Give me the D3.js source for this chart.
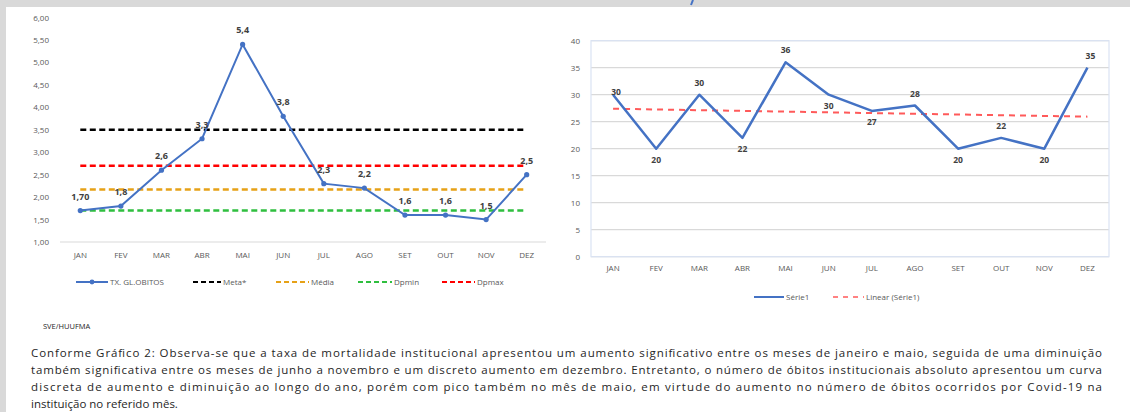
<!DOCTYPE html>
<html><head><meta charset="utf-8">
<script src="https://cdn.jsdelivr.net/npm/d3@7/dist/d3.min.js"></script>
<style>
html,body{margin:0;padding:0;background:#fff;}
svg{display:block;}
text{font-family:"Open Sans","Liberation Sans",sans-serif;}
</style></head>
<body>
<svg id="c" width="1130" height="412"></svg>
<script>
// ---------- DATA ----------
const months = ["JAN","FEV","MAR","ABR","MAI","JUN","JUL","AGO","SET","OUT","NOV","DEZ"];
const taxaValues = [1.70,1.8,2.6,3.3,5.4,3.8,2.3,2.2,1.6,1.6,1.5,2.5];
const taxaLabels = ["1,70","1,8","2,6","3,3","5,4","3,8","2,3","2,2","1,6","1,6","1,5","2,5"];
const metaValue = 3.5, mediaValue = 2.17, dpminValue = 1.7, dpmaxValue = 2.7;
const leftTicks = [1,1.5,2,2.5,3,3.5,4,4.5,5,5.5,6];
const obitosValues = [30,20,30,22,36,30,27,28,20,22,20,35];
const rightTicks = [0,5,10,15,20,25,30,35,40];
const obitosLabelSide = ["on","below","above","below","above","below","below","above","below","above","below","above"];
const legendLeft = ["TX. GL.OBITOS","Meta*","Média","Dpmin","Dpmax"];
const legendRight = ["Série1","Linear (Série1)"];
const sourceText = "SVE/HUUFMA";
const paragraph = [
 "Conforme Gráfico 2: Observa-se que a taxa de mortalidade institucional apresentou um aumento significativo entre os meses de janeiro e maio, seguida de uma diminuição",
 "também significativa entre os meses de junho a novembro e um discreto aumento em dezembro. Entretanto, o número de óbitos institucionais absoluto apresentou um curva",
 "discreta de aumento e diminuição ao longo do ano, porém com pico também no mês de maio, em virtude do aumento no número de óbitos ocorridos por Covid-19 na",
 "instituição no referido mês."
];

const svg = d3.select("#c");
const BLUE = "#4472c4";
const fmt = d => d3.format(".2f")(d).replace(".", ",");
const TICKFS = 8;

// frame (gray borders)
svg.append("rect").attr("x",0).attr("y",0).attr("width",1130).attr("height",7).attr("fill","#d9d9d9");
svg.append("rect").attr("x",0).attr("y",0).attr("width",6).attr("height",412).attr("fill","#d9d9d9");
// fragment of a cut-off heading glyph above the chart
svg.append("path").attr("d","M693,0 L691,5").attr("stroke",BLUE).attr("stroke-width",2);

// ---------- LEFT CHART ----------
const xL = d3.scaleBand().domain(months).range([60,547]);
const yL = d3.scaleLinear().domain([1,6]).range([242,17.5]);
const gL = svg.append("g");

gL.append("line").attr("x1",60).attr("x2",546).attr("y1",yL(1)).attr("y2",yL(1)).attr("stroke","#d9d9d9").attr("stroke-width",1);

const yAxisL = d3.axisLeft(yL).tickValues(leftTicks).tickFormat(fmt).tickSize(0).tickPadding(0);
gL.append("g").attr("transform","translate(49,0)").call(yAxisL)
  .call(g=>g.select(".domain").remove())
  .selectAll("text").attr("font-size",TICKFS).attr("fill","#595959").attr("font-family","'Open Sans',sans-serif");

const xAxisL = d3.axisBottom(xL).tickSize(0).tickPadding(0);
gL.append("g").attr("transform",`translate(0,${yL(1)+10})`).call(xAxisL)
  .call(g=>g.select(".domain").remove())
  .selectAll("text").attr("font-size",TICKFS).attr("fill","#595959").attr("font-family","'Open Sans',sans-serif");

const cx = m => xL(m) + xL.bandwidth()/2;
const refLines = [
  {v:metaValue,c:"#000000"},
  {v:dpmaxValue,c:"#ff0000"},
  {v:mediaValue,c:"#e6a117"},
  {v:dpminValue,c:"#2fbf3f"}
];
refLines.forEach(r=>{
  gL.append("line").attr("x1",cx(months[0])).attr("x2",cx(months[11]))
    .attr("y1",yL(r.v)).attr("y2",yL(r.v)).attr("stroke",r.c).attr("stroke-width",2.5)
    .attr("stroke-dasharray","6,3.5");
});

const lineL = d3.line().x((d,i)=>cx(months[i])).y(d=>yL(d));
gL.append("path").datum(taxaValues).attr("d",lineL).attr("fill","none").attr("stroke",BLUE).attr("stroke-width",2);
gL.selectAll("circle.pt").data(taxaValues).join("circle").attr("class","pt")
  .attr("cx",(d,i)=>cx(months[i])).attr("cy",d=>yL(d)).attr("r",2.6).attr("fill",BLUE);
gL.selectAll("text.lbl").data(taxaValues).join("text").attr("class","lbl")
  .attr("x",(d,i)=>cx(months[i])).attr("y",d=>yL(d)-11)
  .attr("text-anchor","middle").attr("font-size",9).attr("font-weight","bold").attr("fill","#404040")
  .text((d,i)=>taxaLabels[i]);

// legend left
const legY = 282;
const legL = [
  {x:76, w:32, c:BLUE, dash:null, marker:true},
  {x:193, w:28, c:"#000000", dash:"5,3"},
  {x:276, w:33, c:"#e6a117", dash:"5,3"},
  {x:358, w:34, c:"#2fbf3f", dash:"5,3"},
  {x:442, w:33, c:"#ff0000", dash:"5,3"}
];
legL.forEach((l,i)=>{
  gL.append("line").attr("x1",l.x).attr("x2",l.x+l.w).attr("y1",legY).attr("y2",legY)
    .attr("stroke",l.c).attr("stroke-width",2).attr("stroke-dasharray",l.dash);
  if(l.marker) gL.append("circle").attr("cx",l.x+l.w/2).attr("cy",legY).attr("r",2.4).attr("fill",BLUE);
  gL.append("text").attr("x",l.x+l.w+2).attr("y",legY+3).attr("font-size",TICKFS).attr("fill","#595959").text(legendLeft[i]);
});

// ---------- RIGHT CHART ----------
const xR = d3.scaleBand().domain(months).range([591.5,1109]);
const yR = d3.scaleLinear().domain([0,40]).range([256.7,40.7]);
const gR = svg.append("g");

gR.selectAll("line.grid").data(rightTicks).join("line").attr("class","grid")
  .attr("x1",591).attr("x2",1109).attr("y1",d=>yR(d)).attr("y2",d=>yR(d))
  .attr("stroke","#d9d9d9").attr("stroke-width",1.2);
gR.append("rect").attr("x",591).attr("y",yR(40)).attr("width",1109-591).attr("height",yR(0)-yR(40))
  .attr("fill","none").attr("stroke","#dae3f3").attr("stroke-width",1.2);

const yAxisR = d3.axisLeft(yR).tickValues(rightTicks).tickSize(0).tickPadding(0);
gR.append("g").attr("transform","translate(580,0)").call(yAxisR)
  .call(g=>g.select(".domain").remove())
  .selectAll("text").attr("font-size",TICKFS).attr("fill","#595959").attr("font-family","'Open Sans',sans-serif");
const xAxisR = d3.axisBottom(xR).tickSize(0).tickPadding(0);
gR.append("g").attr("transform",`translate(0,${yR(0)+9})`).call(xAxisR)
  .call(g=>g.select(".domain").remove())
  .selectAll("text").attr("font-size",TICKFS).attr("fill","#595959").attr("font-family","'Open Sans',sans-serif");

const cxR = m => xR(m) + xR.bandwidth()/2;
// linear trend (least squares over the series)
const n = obitosValues.length;
const xs = obitosValues.map((d,i)=>i+1);
const mx = d3.mean(xs), my = d3.mean(obitosValues);
const slope = d3.sum(xs.map((x,i)=>(x-mx)*(obitosValues[i]-my))) / d3.sum(xs.map(x=>(x-mx)*(x-mx)));
const icpt = my - slope*mx;
gR.append("line").attr("x1",cxR(months[0])).attr("x2",cxR(months[n-1]))
  .attr("y1",yR(icpt+slope*1)).attr("y2",yR(icpt+slope*n))
  .attr("stroke","#ff5a5a").attr("stroke-width",2).attr("stroke-dasharray","6,5");

const lineR = d3.line().x((d,i)=>cxR(months[i])).y(d=>yR(d));
gR.append("path").datum(obitosValues).attr("d",lineR).attr("fill","none").attr("stroke",BLUE).attr("stroke-width",2.5).attr("stroke-linejoin","round");

const sideDy = {on:0, above:-9, below:14};
gR.selectAll("text.lbl").data(obitosValues).join("text").attr("class","lbl")
  .attr("x",(d,i)=>cxR(months[i]) + (i===0||i===11?3:0))
  .attr("y",(d,i)=>yR(d)+sideDy[obitosLabelSide[i]])
  .attr("text-anchor","middle").attr("font-size",8.5).attr("font-weight","bold").attr("fill","#404040")
  .text(d=>d);

// legend right
const legRY = 297;
gR.append("line").attr("x1",754).attr("x2",784).attr("y1",legRY).attr("y2",legRY).attr("stroke",BLUE).attr("stroke-width",2);
gR.append("text").attr("x",786).attr("y",legRY+3).attr("font-size",TICKFS).attr("fill","#595959").text(legendRight[0]);
gR.append("line").attr("x1",833).attr("x2",864).attr("y1",legRY).attr("y2",legRY).attr("stroke","#ff5a5a").attr("stroke-width",1.6).attr("stroke-dasharray","5,5");
gR.append("text").attr("x",866).attr("y",legRY+3).attr("font-size",TICKFS).attr("fill","#595959").text(legendRight[1]);

// ---------- TEXT ----------
svg.append("text").attr("x",43).attr("y",329).attr("font-size",7.5).attr("fill","#262626").text(sourceText);
const lineYs = [357,374,391,408];
paragraph.forEach((t,i)=>{
  const tx = svg.append("text").attr("x",31).attr("y",lineYs[i]).attr("font-size",11.5).attr("fill","#262626").text(t);
  if(i<3) tx.attr("textLength",1071).attr("lengthAdjust","spacing");
});
</script>
</body></html>
